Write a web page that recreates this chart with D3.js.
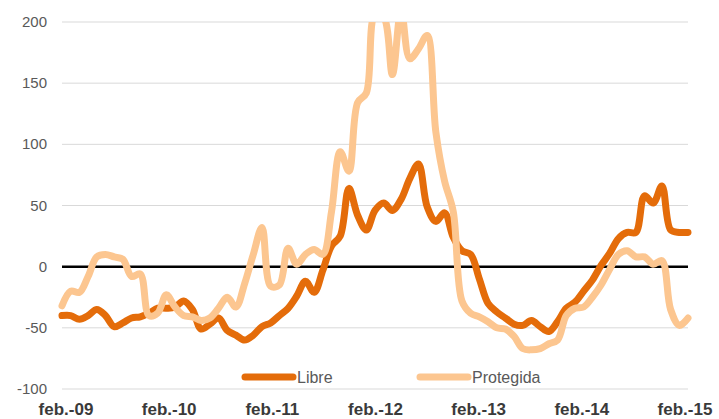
<!DOCTYPE html>
<html>
<head>
<meta charset="utf-8">
<script src="https://cdn.jsdelivr.net/npm/d3@7"></script>
<style>
  body { margin: 0; background: #fff; }
  svg { display: block; font-family: "Liberation Sans", Arial, sans-serif; }
</style>
</head>
<body>
<div id="chart"></div>
<script>
// monthly, feb.-09 .. feb.-15
const libre = [
  -40, -40, -43, -40, -35, -40, -49, -46, -42, -41, -38, -34, -34,
  -33, -28, -35, -51, -47, -42, -52, -56, -60, -56, -49, -46, -40,
  -34, -24, -12, -21, -3, 17, 25, 64, 42, 30, 46, 52, 46,
  55, 72, 84, 49, 37, 44, 24, 13, 10, -10, -30, -37, -42,
  -47, -48, -44, -49, -53, -45, -34, -29, -20, -11, 1, 11, 23,
  28, 28, 58, 52, 66, 30, 28, 28
];
const protegida = [
  -32, -20, -21, -8, 8, 10, 8, 6, -8, -6, -40, -38, -23,
  -33, -40, -41, -44, -42, -34, -25, -33, -14, 10, 32, -16, -15,
  15, 2, 10, 14, 10, 45, 94, 78, 134, 142, 206, 204, 157,
  210, 170, 178, 189, 110, 70, 45, -28, -38, -41, -45, -50, -51,
  -57, -67, -68, -67, -63, -60, -40, -34, -33, -25, -15, -2, 10,
  13, 8, 8, 2, 5, -35, -48, -42
];
const yTicks = [-100, -50, 0, 50, 100, 150, 200];
const xLabels = ["feb.-09", "feb.-10", "feb.-11", "feb.-12", "feb.-13", "feb.-14", "feb.-15"];
const seriesNames = ["Libre", "Protegida"];
const colors = ["#E46C0A", "#FCC690"];

const width = 719, height = 419;
const svg = d3.select("#chart").append("svg")
    .attr("width", width)
    .attr("height", height);

const x = d3.scaleLinear().domain([0, libre.length - 1]).range([62, 688]);
const y = d3.scaleLinear().domain([-100, 200]).range([389, 22]);

// plot area clip, values above 200 get cut off
svg.append("clipPath").attr("id", "plot")
    .append("rect")
    .attr("x", 0).attr("y", y(200))
    .attr("width", width).attr("height", height - y(200));

// gridlines + y labels
svg.append("g")
    .selectAll("line")
    .data(yTicks.filter(d => d !== 0))
    .enter().append("line")
    .attr("x1", 62).attr("x2", 688)
    .attr("y1", d => y(d)).attr("y2", d => y(d))
    .attr("stroke", "#d9d9d9")
    .attr("stroke-width", 1);

svg.append("g")
    .selectAll("text")
    .data(yTicks)
    .enter().append("text")
    .attr("x", 47)
    .attr("y", d => y(d) + 5)
    .attr("text-anchor", "end")
    .attr("font-size", 15)
    .attr("fill", "#595959")
    .text(d => d);

// x labels, one per year
const xl = d3.scaleLinear().domain([0, xLabels.length - 1]).range([66, 685]);
svg.append("g")
    .selectAll("text")
    .data(xLabels)
    .enter().append("text")
    .attr("x", (d, i) => xl(i))
    .attr("y", 415)
    .attr("text-anchor", "middle")
    .attr("font-size", 17)
    .attr("font-weight", "bold")
    .attr("fill", "#3a3a3a")
    .text(d => d);

// zero line
svg.append("line")
    .attr("x1", 62).attr("x2", 688)
    .attr("y1", y(0)).attr("y2", y(0))
    .attr("stroke", "#000")
    .attr("stroke-width", 2.5);

const line = d3.line()
    .x((d, i) => x(i))
    .y(d => y(d))
    .curve(d3.curveCatmullRom.alpha(0.5));

const lines = svg.append("g").attr("clip-path", "url(#plot)");
[libre, protegida].forEach((s, k) => {
    lines.append("path")
        .datum(s)
        .attr("d", line)
        .attr("fill", "none")
        .attr("stroke", colors[k])
        .attr("stroke-width", 7)
        .attr("stroke-linejoin", "round")
        .attr("stroke-linecap", "round");
});

// legend
const legendX = [245, 420];
seriesNames.forEach((name, k) => {
    const g = svg.append("g").attr("transform", `translate(${legendX[k]},377)`);
    g.append("line")
        .attr("x1", 0).attr("x2", 48)
        .attr("stroke", colors[k])
        .attr("stroke-width", 7)
        .attr("stroke-linecap", "round");
    g.append("text")
        .attr("x", 52)
        .attr("y", 6)
        .attr("font-size", 16)
        .attr("fill", "#595959")
        .text(name);
});
</script>
</body>
</html>
